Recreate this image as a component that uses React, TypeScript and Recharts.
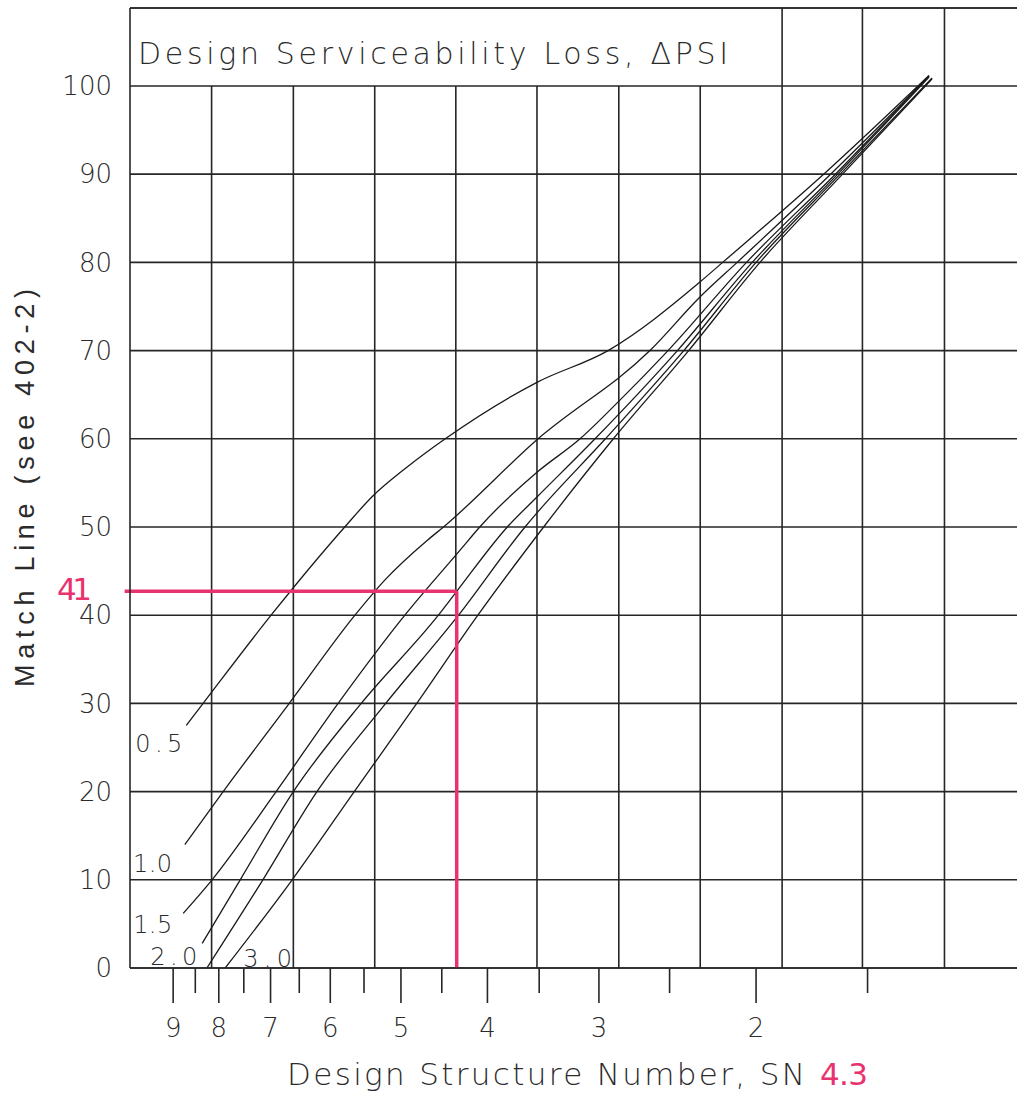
import React from "react";
import {
  LineChart,
  Line,
  XAxis,
  YAxis,
  CartesianGrid,
  ReferenceLine,
  ReferenceDot,
} from "recharts";

// ---------- data ----------
type Pt = [number, number]; // [Design Structure Number SN, Match Line value]

const yTicks = [0, 10, 20, 30, 40, 50, 60, 70, 80, 90, 100];
const snMajorTicks = [9, 8, 7, 6, 5, 4, 3, 2];
const snMinorTicks = [8.5, 7.5, 6.5, 5.5, 4.5, 3.5, 2.5, 1.5];
const snDomain: [number, number] = [1, 10.06];
const frameTop = 108.84; // top edge of the title band
// vertical grid lines of the chart paper, read as SN positions
const gridColumnsSN = [8.15, 6.6, 5.35, 4.34, 3.52, 2.85, 2.31, 1.87, 1.52, 1.23];
const titleBandColumnsSN = [1.87, 1.52, 1.23];

const psiLabels = ["0.5", "1.0", "1.5", "2.0", "2.5", "3.0"];

const psi05: Pt[] = [
  [8.7, 27.5], [8.33, 30], [6.99, 40], [5.78, 50], [5.39, 53.4], [4.92, 56.8],
  [4.46, 60], [3.52, 66.4], [2.93, 70], [2.31, 77.8], [2.18, 80], [1.68, 90],
  [1.28, 101.2],
];
const psi10: Pt[] = [
  [8.73, 14.0], [7.91, 20], [6.67, 30], [5.63, 40], [5.21, 44.0], [4.67, 48.5],
  [4.48, 50], [3.51, 60], [2.63, 70], [2.31, 76.1], [2.1, 80], [1.65, 90],
  [1.28, 101.1],
];
const psi15: Pt[] = [
  [8.77, 6.2], [8.14, 10], [6.9, 20], [5.88, 30], [4.95, 40], [4.29, 47.4],
  [4.08, 50], [3.52, 56.2], [3.15, 60], [2.86, 64.1], [2.51, 70], [2.05, 80],
  [1.63, 90], [1.28, 101.1],
];
const psi20: Pt[] = [
  [8.35, 2.8], [7.57, 10], [6.6, 20], [5.54, 30], [4.54, 40], [4.33, 42.7],
  [3.8, 50], [3.52, 53.4], [3.03, 60], [2.45, 70], [2.02, 80], [1.62, 90],
  [1.28, 101.0],
];
const psi25: Pt[] = [
  [8.25, 0], [7.14, 10], [6.21, 20], [5.2, 30], [4.31, 40], [3.63, 50],
  [3.52, 51.6], [2.95, 60], [2.41, 70], [2.0, 80], [1.61, 90], [1.27, 100.9],
];
const psi30: Pt[] = [
  [7.87, 0], [6.62, 10], [5.64, 20], [4.8, 30], [4.1, 40], [3.46, 50],
  [2.89, 60], [2.38, 70], [1.98, 80], [1.6, 90], [1.27, 100.8],
];

const readMatchLine = 42.7;
const readMatchLabel = "41";
const readSN = 4.33;
const readSNLabel = "4.3";
const matchLineStartSN = 10.2;

const titleText = "Design Serviceability Loss, \u0394PSI";
const xTitle = "Design Structure Number, SN";
const yTitle = "Match Line (see 402-2)";

// ---------- styles ----------
const GRID = "#262626";
const INK = "#1a1a1a";
const TEXT = "#2b2b2b";
const PINK = "#e8336f";
const FONT = "'DejaVu Sans', 'Liberation Sans', sans-serif";
const WEIGHT = 300;

const curveLabelStyle: Record<string, { dx: number; dy: number; anchor: string; len: number } | null> = {
  "0.5": { dx: -4, dy: 27, anchor: "end", len: 47 },
  "1.0": { dx: -13, dy: 27, anchor: "end", len: 39 },
  "1.5": { dx: -11, dy: 20, anchor: "end", len: 39 },
  "2.0": { dx: -5, dy: 22, anchor: "end", len: 47 },
  "2.5": null,
  "3.0": { dx: 18, dy: -1, anchor: "start", len: 49 },
};

const curves = [psi05, psi10, psi15, psi20, psi25, psi30].map((pts, i) => ({
  label: psiLabels[i],
  data: pts.map(([sn, v]) => ({ sn, v })),
}));

const SnTick = (props: any) => {
  const { x, y, payload } = props;
  const value = payload.value;
  const major = snMajorTicks.includes(value);
  return (
    <g>
      <line x1={x} y1={y} x2={x} y2={y + (major ? 35 : 25)} stroke={GRID} strokeWidth={1.6} />
      {major && (
        <text x={x} y={y + 69} textAnchor="middle" fill={TEXT} fontSize={26} fontFamily={FONT} fontWeight={WEIGHT}>
          {value}
        </text>
      )}
    </g>
  );
};

const curveLabel = (name: string) => (props: any) => {
  const s = curveLabelStyle[name];
  if (!s) return null;
  const vb = props.viewBox;
  const cx = vb.x + vb.width / 2;
  const cy = vb.y + vb.height / 2;
  return (
    <text
      x={cx + s.dx}
      y={cy + s.dy}
      textAnchor={s.anchor as any}
      fill={TEXT}
      fontSize={24}
      fontFamily={FONT}
      fontWeight={WEIGHT}
      textLength={s.len}
      lengthAdjust="spacing"
    >
      {name}
    </text>
  );
};

export default function App() {
  const W = 1030;
  const H = 1094;
  const plotRight = 1024.7;
  return (
    <div style={{ position: "absolute", left: 0, top: 0, width: 1017, height: H, overflow: "hidden", background: "#fff" }}>
      <LineChart width={W} height={H} margin={{ top: 8, right: W - plotRight, bottom: 0, left: 0 }}>
        <CartesianGrid xAxisId="sn" vertical={false} stroke={GRID} strokeWidth={1.6} />
        <XAxis
          xAxisId="sn"
          dataKey="sn"
          type="number"
          scale="log"
          domain={snDomain}
          reversed
          allowDataOverflow
          ticks={[...snMajorTicks, ...snMinorTicks].sort((a, b) => b - a)}
          interval={0}
          tick={<SnTick />}
          tickLine={false}
          tickSize={0}
          tickMargin={0}
          axisLine={{ stroke: GRID, strokeWidth: 1.6 }}
          height={126}
          label={(p: any) => {
            const vb = p.viewBox;
            return (
              <g>
                <text
                  x={vb.x + 157}
                  y={vb.y + 117}
                  fill={TEXT}
                  fontSize={31}
                  fontFamily={FONT}
                  fontWeight={WEIGHT}
                  textLength={518}
                  lengthAdjust="spacing"
                >
                  {xTitle}
                </text>
                <text x={vb.x + 690} y={vb.y + 117} fill={PINK} fontSize={31} fontFamily={FONT} textLength={48} lengthAdjust="spacing">
                  {readSNLabel}
                </text>
              </g>
            );
          }}
        />
        <YAxis
          type="number"
          domain={[0, frameTop]}
          allowDataOverflow
          ticks={yTicks}
          interval={0}
          width={130}
          tickLine={false}
          tickSize={0}
          tickMargin={18}
          axisLine={{ stroke: GRID, strokeWidth: 1.6 }}
          tick={{ fill: TEXT, fontSize: 26, fontFamily: FONT, fontWeight: WEIGHT }}
          label={(p: any) => {
            const vb = p.viewBox;
            const cx = 34;
            const cy = vb.y + vb.height / 2;
            return (
              <text
                x={cx}
                y={cy}
                transform={`rotate(-90 ${cx} ${cy})`}
                textAnchor="middle"
                fill={TEXT}
                fontSize={27}
                fontFamily="'Liberation Sans', Arial, sans-serif"
                textLength={398}
                lengthAdjust="spacing"
              >
                {yTitle}
              </text>
            );
          }}
        />

        {/* top frame + title band */}
        <ReferenceLine
          xAxisId="sn"
          y={frameTop}
          stroke={GRID}
          strokeWidth={1.6}
          ifOverflow="visible"
          label={(p: any) => {
            const vb = p.viewBox;
            return (
              <text
                x={vb.x + 8}
                y={vb.y + 56}
                fill={TEXT}
                fontSize={30}
                fontFamily={FONT}
                fontWeight={WEIGHT}
                textLength={590}
                lengthAdjust="spacing"
              >
                {titleText}
              </text>
            );
          }}
        />
        {gridColumnsSN.map((sn) => (
          <ReferenceLine
            key={`col${sn}`}
            xAxisId="sn"
            segment={[
              { x: sn, y: 0 },
              { x: sn, y: titleBandColumnsSN.includes(sn) ? frameTop : 100 },
            ]}
            stroke={GRID}
            strokeWidth={1.6}
            ifOverflow="visible"
          />
        ))}

        {curves.map((c) => (
          <Line
            key={c.label}
            xAxisId="sn"
            data={c.data}
            dataKey="v"
            type="monotone"
            stroke={INK}
            strokeWidth={1.3}
            dot={false}
            activeDot={false}
            isAnimationActive={false}
          />
        ))}
        {curves.map((c) => (
          <ReferenceDot
            key={`lab${c.label}`}
            xAxisId="sn"
            x={c.data[0].sn}
            y={c.data[0].v}
            r={1}
            fill="none"
            stroke="none"
            ifOverflow="visible"
            label={curveLabel(c.label)}
          />
        ))}

        {/* reading annotation */}
        <ReferenceLine
          xAxisId="sn"
          segment={[
            { x: matchLineStartSN, y: readMatchLine },
            { x: readSN, y: readMatchLine },
          ]}
          stroke={PINK}
          strokeWidth={3.5}
          ifOverflow="visible"
        />
        <ReferenceLine
          xAxisId="sn"
          segment={[
            { x: readSN, y: readMatchLine },
            { x: readSN, y: 0 },
          ]}
          stroke={PINK}
          strokeWidth={3.5}
          ifOverflow="visible"
        />
        <ReferenceDot
          xAxisId="sn"
          x={snDomain[1]}
          y={readMatchLine}
          r={1}
          fill="none"
          stroke="none"
          ifOverflow="visible"
          label={(p: any) => {
            const vb = p.viewBox;
            const cx = vb.x + vb.width / 2;
            const cy = vb.y + vb.height / 2;
            return (
              <text x={cx - 38} y={cy + 9} textAnchor="end" fill={PINK} fontSize={31} fontFamily={FONT} textLength={35} lengthAdjust="spacing">
                {readMatchLabel}
              </text>
            );
          }}
        />
      </LineChart>
    </div>
  );
}
